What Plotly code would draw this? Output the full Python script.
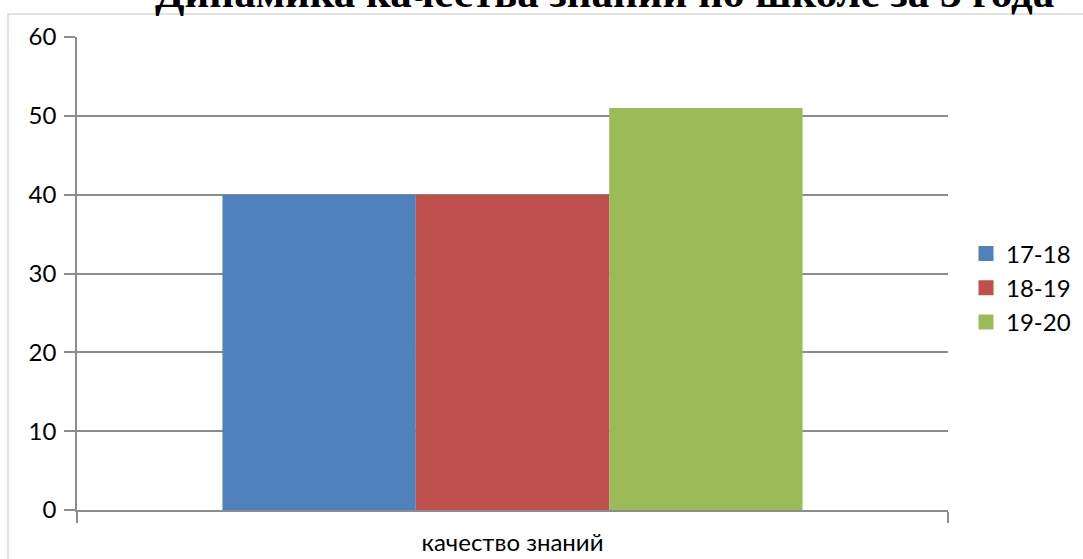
import plotly.graph_objects as go

categories = ["качество знаний"]
series_names = ["17-18", "18-19", "19-20"]
series_values = [[40], [40], [51]]
colors = ["#4F81BD", "#C0504D", "#9BBB59"]
title_text = "Динамика качества знаний по школе за 3 года"
y_ticks = [0, 10, 20, 30, 40, 50, 60]

W, H = 1083, 559
L, R, T, B = 77, 135, 37, 49
pw, ph = W - L - R, H - T - B

def px_x(x):
    return (x - L) / pw

def px_y(y):
    return (H - B - y) / ph

fig = go.Figure()
for name, vals, col in zip(series_names, series_values, colors):
    fig.add_trace(go.Bar(x=categories, y=vals, name=name, marker_color=col,
                         marker_line_width=0, showlegend=False))
for name, col in zip(series_names, colors):
    fig.add_trace(go.Scatter(x=[None], y=[None], mode="markers", name=name,
                             marker=dict(symbol="square", size=15, color=col)))

axis_font = dict(family="Lato", size=24, color="#000000")
grid = "#8c8c8c"

fig.update_layout(
    width=W, height=H,
    margin=dict(l=L, r=R, t=T, b=B, pad=0, autoexpand=False),
    paper_bgcolor="white", plot_bgcolor="white",
    barmode="group", bargap=0.334, bargroupgap=0,
    font=axis_font,
    legend=dict(x=px_x(966), y=px_y(288), xanchor="left", yanchor="middle",
                font=dict(family="Lato", size=24, color="#000000"),
                bgcolor="rgba(0,0,0,0)", itemclick=False, tracegroupgap=0),
    xaxis=dict(type="category", showline=True, linecolor=grid, linewidth=1.5,
               ticks="outside", tickson="boundaries", ticklen=11, tickcolor=grid,
               tickwidth=1.5, showgrid=False, tickfont=axis_font,
               ticklabelstandoff=10, automargin=False, fixedrange=True),
    yaxis=dict(range=[0, 60], tickvals=y_ticks, showline=True, linecolor=grid,
               linewidth=1.5, ticks="outside", ticklen=11, tickcolor=grid,
               tickwidth=1.5, showgrid=True, gridcolor=grid, gridwidth=1.5,
               zeroline=False, tickfont=axis_font, ticklabelstandoff=3,
               automargin=False, fixedrange=True),
    shapes=[dict(type="rect", xref="paper", yref="paper",
                 x0=px_x(8), y0=px_y(H + 50), x1=px_x(W + 50), y1=px_y(14),
                 line=dict(color="#d9d9d9", width=1.5), fillcolor="rgba(0,0,0,0)",
                 layer="below")],
    annotations=[dict(text="<b>" + title_text + "</b>", xref="paper", yref="paper",
                      x=px_x(604), y=px_y(18), xanchor="center", yanchor="bottom",
                      showarrow=False,
                      font=dict(family="Liberation Serif", size=43, color="#000000"))],
)

fig.write_html("out.html", config={"displayModeBar": False},
               post_script="document.body.style.margin='0';document.body.style.overflow='hidden';")
